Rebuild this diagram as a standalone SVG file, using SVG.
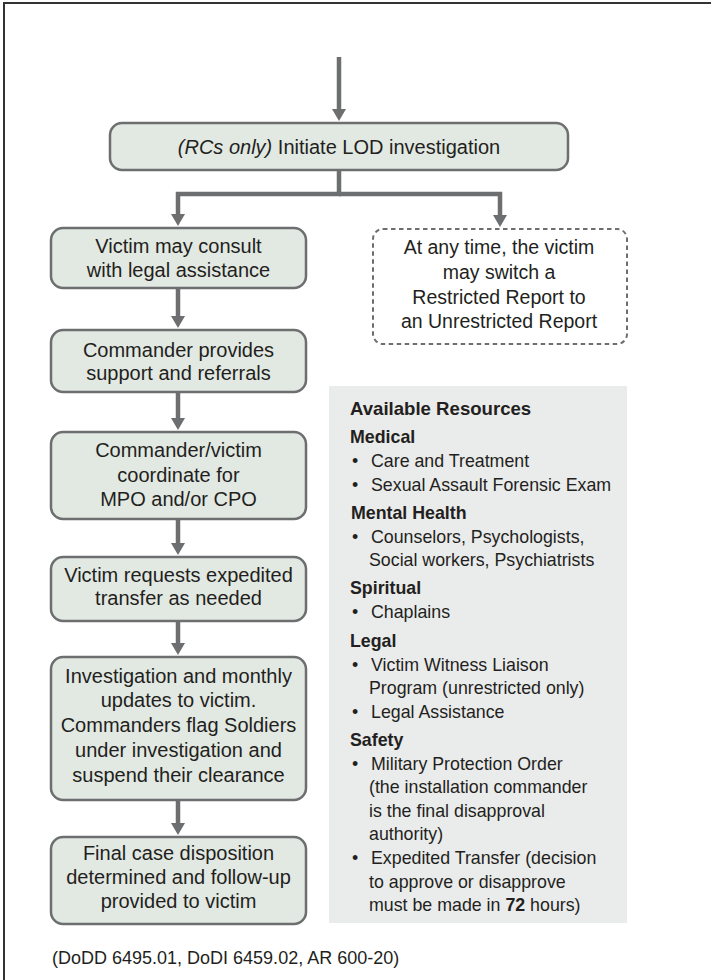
<svg xmlns="http://www.w3.org/2000/svg" width="711" height="980" viewBox="0 0 711 980">
<style>
.box{fill:#e2e8e2;stroke:#6d6e70;stroke-width:2.5}
.dash{fill:#ffffff;stroke:#6d6e70;stroke-width:2;stroke-dasharray:4.5 3.5}
.panel{fill:#eaebeb}
.conn{fill:none;stroke:#6d6e70;stroke-width:4.5}
.t{font-family:"Liberation Sans",Arial,sans-serif;font-size:20px;fill:#231f20;text-anchor:middle}
.d{font-size:19.5px}
.p{font-family:"Liberation Sans",Arial,sans-serif;font-size:17.8px;fill:#231f20}
.h{font-weight:700}
.hb{font-weight:700;font-size:18.6px}
.fn{font-family:"Liberation Sans",Arial,sans-serif;font-size:18px;fill:#231f20}
</style>
<defs>
<marker id="ah" viewBox="0 0 12 14" refX="2" refY="7" markerWidth="12" markerHeight="14" orient="auto" markerUnits="userSpaceOnUse">
<path d="M0,0 L12,7 L0,14 z" fill="#6d6e70"/>
</marker>
</defs>
<rect width="711" height="980" fill="#ffffff"/>
<path d="M4,980 V3 H711" fill="none" stroke="#333333" stroke-width="2"/>

<g id="connectors">
<line class="conn" x1="339" y1="57" x2="339" y2="111" marker-end="url(#ah)"/>
<path class="conn" d="M339,170 V194 H178 V216" marker-end="url(#ah)"/>
<path class="conn" d="M339,194 H500 V217" marker-end="url(#ah)"/>
<line class="conn" x1="178" y1="288" x2="178" y2="318" marker-end="url(#ah)"/>
<line class="conn" x1="178" y1="392" x2="178" y2="420" marker-end="url(#ah)"/>
<line class="conn" x1="178" y1="519" x2="178" y2="545" marker-end="url(#ah)"/>
<line class="conn" x1="178" y1="621" x2="178" y2="645" marker-end="url(#ah)"/>
<line class="conn" x1="178" y1="800" x2="178" y2="825" marker-end="url(#ah)"/>
</g>

<g id="lod">
<rect class="box" x="110" y="123" width="458" height="47" rx="12"/>
<text class="t" x="339" y="154"><tspan font-style="italic">(RCs only)</tspan> Initiate LOD investigation</text>
</g>

<g id="legal">
<rect class="box" x="51" y="228" width="255" height="60" rx="12"/>
<text class="t" x="178.5" y="253">Victim may consult</text>
<text class="t" x="178.5" y="277">with legal assistance</text>
</g>

<g id="switch">
<rect class="dash" x="373" y="229" width="254" height="115" rx="10"/>
<text class="t d" x="499" y="254">At any time, the victim</text>
<text class="t d" x="499" y="279">may switch a</text>
<text class="t d" x="499" y="304">Restricted Report to</text>
<text class="t d" x="499" y="328">an Unrestricted Report</text>
</g>

<g id="support">
<rect class="box" x="51" y="330" width="255" height="62" rx="12"/>
<text class="t" x="178.5" y="357">Commander provides</text>
<text class="t" x="178.5" y="380">support and referrals</text>
</g>

<g id="mpo">
<rect class="box" x="51" y="432" width="255" height="87" rx="12"/>
<text class="t" x="178.5" y="457">Commander/victim</text>
<text class="t" x="178.5" y="482">coordinate for</text>
<text class="t" x="178.5" y="506">MPO and/or CPO</text>
</g>

<g id="transfer">
<rect class="box" x="51" y="557" width="255" height="64" rx="12"/>
<text class="t" x="178.5" y="582">Victim requests expedited</text>
<text class="t" x="178.5" y="605">transfer as needed</text>
</g>

<g id="investigation">
<rect class="box" x="51" y="657" width="255" height="143" rx="12"/>
<text class="t" x="178.5" y="683">Investigation and monthly</text>
<text class="t" x="178.5" y="707">updates to victim.</text>
<text class="t" x="178.5" y="732">Commanders flag Soldiers</text>
<text class="t" x="178.5" y="757">under investigation and</text>
<text class="t" x="178.5" y="782">suspend their clearance</text>
</g>

<g id="final">
<rect class="box" x="51" y="837" width="255" height="87" rx="12"/>
<text class="t" x="178.5" y="860">Final case disposition</text>
<text class="t" x="178.5" y="884">determined and follow-up</text>
<text class="t" x="178.5" y="908">provided to victim</text>
</g>

<g id="resources">
<rect class="panel" x="329" y="386" width="298" height="537"/>
<text class="p hb" x="350" y="415">Available Resources</text>
<text class="p h" x="350" y="443">Medical</text>
<text class="p" x="352" y="467">•</text><text class="p" x="371" y="467">Care and Treatment</text>
<text class="p" x="352" y="491">•</text><text class="p" x="371" y="491">Sexual Assault Forensic Exam</text>
<text class="p h" x="351" y="519">Mental Health</text>
<text class="p" x="352" y="543">•</text><text class="p" x="371" y="543">Counselors, Psychologists,</text>
<text class="p" x="369" y="566">Social workers, Psychiatrists</text>
<text class="p h" x="350" y="594">Spiritual</text>
<text class="p" x="352" y="618">•</text><text class="p" x="371" y="618">Chaplains</text>
<text class="p h" x="350" y="647">Legal</text>
<text class="p" x="352" y="671">•</text><text class="p" x="371" y="671">Victim Witness Liaison</text>
<text class="p" x="369" y="694">Program (unrestricted only)</text>
<text class="p" x="352" y="718">•</text><text class="p" x="371" y="718">Legal Assistance</text>
<text class="p h" x="350" y="746">Safety</text>
<text class="p" x="352" y="770">•</text><text class="p" x="371" y="770">Military Protection Order</text>
<text class="p" x="369" y="793">(the installation commander</text>
<text class="p" x="369" y="817">is the final disapproval</text>
<text class="p" x="369" y="840">authority)</text>
<text class="p" x="352" y="864">•</text><text class="p" x="371" y="864">Expedited Transfer (decision</text>
<text class="p" x="369" y="888">to approve or disapprove</text>
<text class="p" x="369" y="911">must be made in <tspan font-weight="700">72</tspan> hours)</text>
</g>

<g id="footnote">
<text class="fn" x="52" y="964">(DoDD 6495.01, DoDI 6459.02, AR 600-20)</text>
</g>
</svg>
